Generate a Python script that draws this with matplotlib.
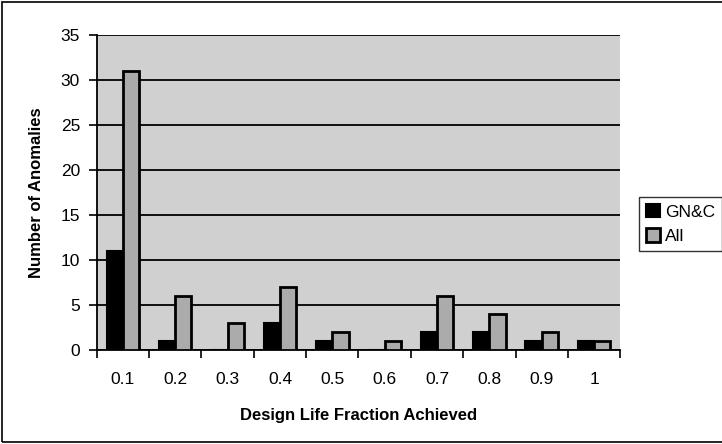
import numpy as np
import matplotlib
matplotlib.use("Agg")
import matplotlib.pyplot as plt
from matplotlib.patches import Rectangle

plt.rcParams['font.family'] = ['Liberation Sans', 'DejaVu Sans']

fractions = ['0.1', '0.2', '0.3', '0.4', '0.5', '0.6', '0.7', '0.8', '0.9', '1']
gnc = [11, 1, 0, 3, 1, 0, 2, 2, 1, 1]
all_anom = [31, 6, 3, 7, 2, 1, 6, 4, 2, 1]

fig = plt.figure(figsize=(7.22, 4.44), dpi=100)
ax = fig.add_axes([0.134, 0.212, 0.725, 0.709])
ax.set_facecolor('#d0d0d0')

x = np.arange(len(fractions))
w = 0.31
ax.bar(x - w / 2, gnc, w, color='black', edgecolor='black', linewidth=1.5, label='GN&C', zorder=3)
ax.bar(x + w / 2, all_anom, w, color='#ababab', edgecolor='black', linewidth=2, label='All', zorder=3)

ax.set_xlim(-0.5, len(fractions) - 0.5)
ax.set_ylim(0, 35)
ax.set_yticks(range(0, 36, 5))
ax.yaxis.grid(True, color='black', linewidth=1.3, zorder=1)
ax.set_axisbelow(True)

# ticks between categories, labels centered
ax.set_xticks(np.arange(-0.5, len(fractions), 1.0))
ax.set_xticklabels([])
ax.set_xticks(x, minor=True)
ax.set_xticklabels(fractions, minor=True)
ax.tick_params(axis='x', which='minor', length=0, labelsize=12.5, pad=16)
ax.tick_params(axis='x', which='major', length=6, width=1.2, direction='out')
ax.tick_params(axis='y', length=6, width=1.2, direction='out', labelsize=12.5, pad=6)

for side in ['top', 'right']:
    ax.spines[side].set_visible(False)
ax.spines['left'].set_linewidth(1.3)
ax.spines['bottom'].set_linewidth(1.3)

ax.set_xlabel('Design Life Fraction Achieved', fontsize=12, fontweight='bold', labelpad=15)
ax.set_ylabel('Number of Anomalies', fontsize=12, fontweight='bold', labelpad=12)

leg = ax.legend(loc='center left', bbox_to_anchor=(1.02, 0.40), fontsize=12.5,
                frameon=True, fancybox=False, edgecolor='black',
                handlelength=0.8, handleheight=0.8, handletextpad=0.3,
                borderpad=0.4, labelspacing=0.5)
leg.get_frame().set_linewidth(1.0)

fig.patches.append(Rectangle((0.003, 0.005), 1.2, 0.99, transform=fig.transFigure,
                             fill=False, edgecolor='black', linewidth=1.2))

fig.savefig('out.png', dpi=100)
